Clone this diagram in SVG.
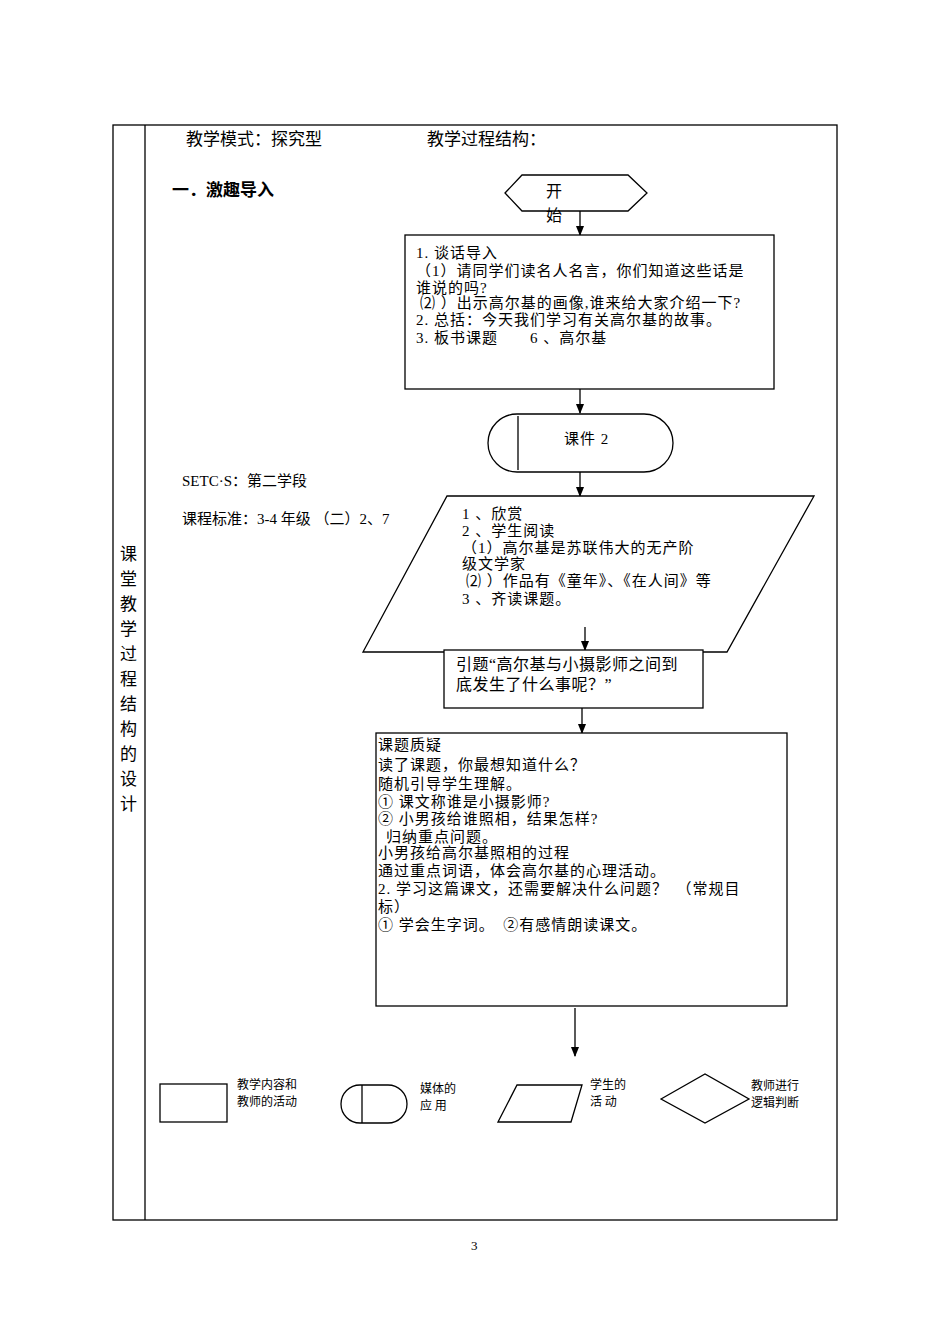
<svg xmlns="http://www.w3.org/2000/svg" width="950" height="1344" viewBox="0 0 950 1344">
<style>
text{font-family:"Liberation Serif","Noto Sans CJK SC",serif;fill:#000}
.s{fill:#fff;stroke:#000;stroke-width:1.3}
.c{stroke:#000;stroke-width:1.3;fill:none}
.t{font-size:15px;letter-spacing:1px}
.l{font-size:12px;font-family:"Noto Sans CJK SC",sans-serif}
</style>
<defs><marker id="a" viewBox="0 0 10 10" refX="9" refY="5" markerWidth="8" markerHeight="8" orient="auto"><path d="M0,1 L10,5 L0,9z" fill="#000"/></marker></defs>
<rect width="950" height="1344" fill="#fff"/>
<g id="table"><rect x="113" y="125" width="724" height="1095" class="c"/><line x1="145" y1="125" x2="145" y2="1220" class="c"/></g>
<g id="side" font-size="17"><text x="120" y="560">课</text><text x="120" y="585">堂</text><text x="120" y="610">教</text><text x="120" y="635">学</text><text x="120" y="660">过</text><text x="120" y="685">程</text><text x="120" y="710">结</text><text x="120" y="735">构</text><text x="120" y="760">的</text><text x="120" y="785">设</text><text x="120" y="810">计</text></g>
<g id="header" font-size="17"><text x="186" y="145">教学模式：探究型</text><text x="427" y="145">教学过程结构：</text><text x="172" y="196" font-weight="bold" style="font-family:'Noto Sans CJK SC',sans-serif">一．激趣导入</text></g>
<g id="connectors">
<line x1="580" y1="211" x2="580" y2="235" class="c" marker-end="url(#a)"/>
<line x1="580" y1="389" x2="580" y2="413" class="c" marker-end="url(#a)"/>
<line x1="580" y1="472" x2="580" y2="496" class="c" marker-end="url(#a)"/>
<line x1="585" y1="627" x2="585" y2="650" class="c" marker-end="url(#a)"/>
<line x1="582" y1="708" x2="582" y2="733" class="c" marker-end="url(#a)"/>
<line x1="575" y1="1008" x2="575" y2="1056" class="c" marker-end="url(#a)"/>
</g>
<g id="start"><polygon points="505,193 522,175 628,175 647,193 628,211 522,211" class="s"/><text x="546" y="197" font-size="16">开</text><text x="546" y="221" font-size="16">始</text></g>
<g id="box1"><rect x="405" y="235" width="369" height="154" class="s"/>
<text class="t"><tspan x="416" y="258">1. 谈话导入</tspan><tspan x="416" y="276">（1）请同学们读名人名言，你们知道这些话是</tspan><tspan x="416" y="293">谁说的吗?</tspan><tspan x="420" y="308">⑵ ）出示高尔基的画像,谁来给大家介绍一下?</tspan><tspan x="416" y="325">2. 总括：今天我们学习有关高尔基的故事。</tspan><tspan x="416" y="343">3. 板书课题　　6 、高尔基</tspan></text></g>
<g id="media"><rect x="488" y="414" width="185" height="58" rx="29" class="s"/><line x1="518" y1="416" x2="518" y2="470" class="c"/><text x="564" y="444" class="t">课件 2</text></g>
<g id="notes" font-size="15"><text x="182" y="486">SETC·S：第二学段</text><text x="182" y="524">课程标准：3-4 年级 （二）2、7</text></g>
<g id="student"><polygon points="447,496 814,496 727,652 363,652" class="s"/>
<text class="t"><tspan x="462" y="519">1 、欣赏</tspan><tspan x="462" y="536">2 、学生阅读</tspan><tspan x="462" y="553">（1）高尔基是苏联伟大的无产阶</tspan><tspan x="462" y="569">级文学家</tspan><tspan x="466" y="586">⑵ ）作品有《童年》、《在人间》等</tspan><tspan x="462" y="604">3 、齐读课题。</tspan></text>
<line x1="585" y1="627" x2="585" y2="650" class="c" marker-end="url(#a)"/></g>
<g id="box2"><rect x="444" y="650" width="259" height="58" class="s"/><text font-size="16" letter-spacing="0.5"><tspan x="456" y="670">引题“高尔基与小摄影师之间到</tspan><tspan x="456" y="690">底发生了什么事呢？”</tspan></text></g>
<g id="box3"><rect x="376" y="733" width="411" height="273" class="s"/>
<text class="t"><tspan x="378" y="750">课题质疑</tspan><tspan x="378" y="770">读了课题，你最想知道什么？</tspan><tspan x="378" y="789">随机引导学生理解。</tspan><tspan x="378" y="807">① 课文称谁是小摄影师?</tspan><tspan x="378" y="824">② 小男孩给谁照相，结果怎样?</tspan><tspan x="386" y="842">归纳重点问题。</tspan><tspan x="378" y="858">小男孩给高尔基照相的过程</tspan><tspan x="378" y="876">通过重点词语，体会高尔基的心理活动。</tspan><tspan x="378" y="894">2. 学习这篇课文，还需要解决什么问题？　（常规目</tspan><tspan x="378" y="912">标）</tspan><tspan x="378" y="930">① 学会生字词。　②有感情朗读课文。</tspan></text></g>
<g id="legend">
<rect x="160" y="1084" width="67" height="38" class="s"/><text class="l"><tspan x="237" y="1089">教学内容和</tspan><tspan x="237" y="1106">教师的活动</tspan></text>
<rect x="341" y="1085" width="66" height="38" rx="19" class="s"/><line x1="362" y1="1085" x2="362" y2="1123" class="c"/><text class="l"><tspan x="420" y="1093">媒体的</tspan><tspan x="420" y="1110">应 用</tspan></text>
<polygon points="498,1122 517,1085 582,1085 571,1122" class="s"/><text class="l"><tspan x="590" y="1089">学生的</tspan><tspan x="590" y="1106">活 动</tspan></text>
<polygon points="661,1099 705,1074 749,1099 705,1123" class="s"/><text class="l"><tspan x="751" y="1090">教师进行</tspan><tspan x="751" y="1107">逻辑判断</tspan></text>
</g>
<text x="471" y="1250" font-size="13">3</text>
</svg>
